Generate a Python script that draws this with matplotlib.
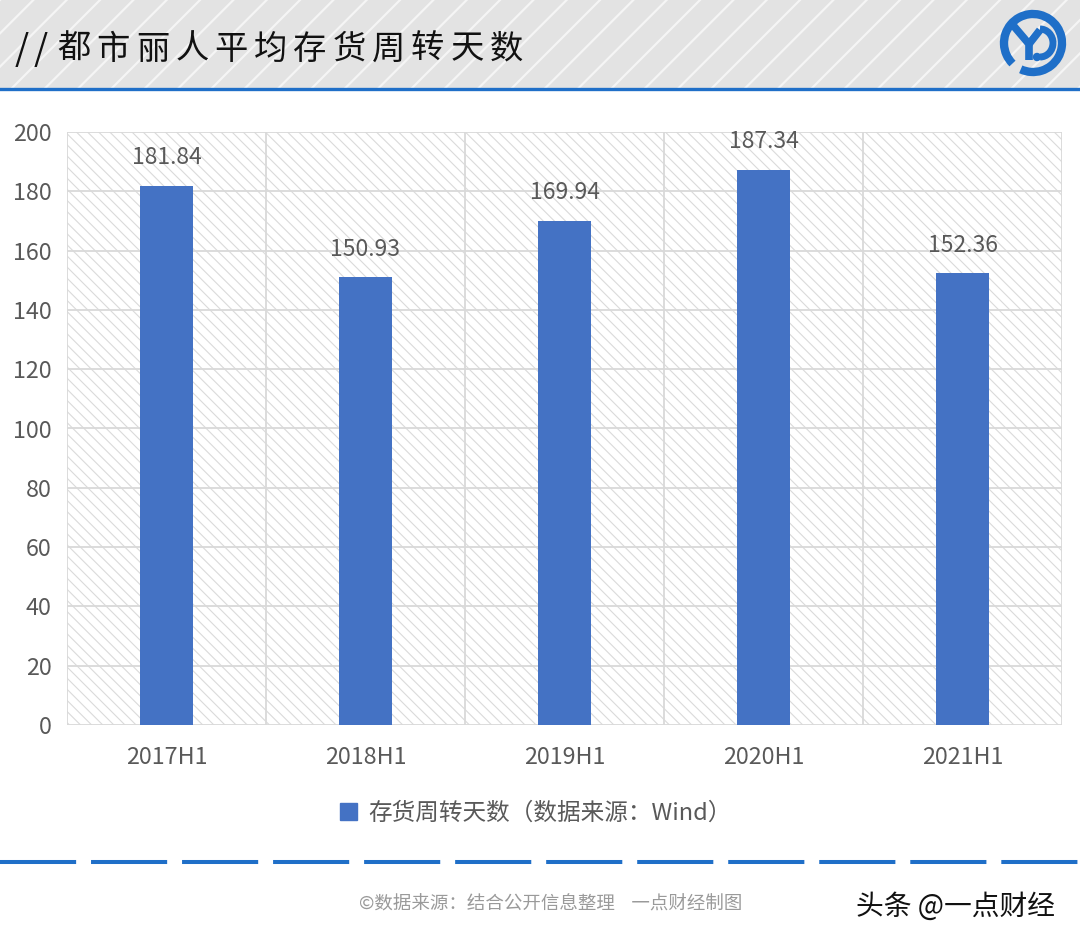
""" Bar chart: average inventory turnover days of Cosmo Lady (都市丽人) """

import matplotlib
matplotlib.use("Agg")
import matplotlib.pyplot as plt
from matplotlib.patches import Rectangle, Circle, Arc
from matplotlib.lines import Line2D

plt.rcParams["font.family"] = ["Noto Sans CJK SC", "DejaVu Sans"]

# Data
periods = ["2017H1", "2018H1", "2019H1", "2020H1", "2021H1"]
turnover_days = [181.84, 150.93, 169.94, 187.34, 152.36]
y_ticks = [0, 20, 40, 60, 80, 100, 120, 140, 160, 180, 200]

title = "都市丽人平均存货周转天数"
series_name = "存货周转天数（数据来源：Wind）"
footer_note = "©数据来源：结合公开信息整理    一点财经制图"
watermark = "头条 @一点财经"

BAR_COLOR = "#4472C4"
TEXT_GRAY = "#595959"
GRID_GRAY = "#d9d9d9"
BRAND_BLUE = "#1f6fc8"

W, H = 1080, 946
fig = plt.figure(figsize=(W / 100, H / 100), dpi=100)
fig.patch.set_facecolor("white")

# Background layer in pixel coordinates for header / footer decorations
bg = fig.add_axes([0, 0, 1, 1])
bg.set_xlim(0, W)
bg.set_ylim(H, 0)
bg.axis("off")
bg.set_zorder(0)

# Header: gray band with white diagonal stripes
plt.rcParams["hatch.linewidth"] = 1.6
bg.add_patch(Rectangle((0, 0), W, 88, facecolor="#e3e3e3", edgecolor="#f5f5f5",
                       hatch="/", linewidth=0))
bg.add_line(Line2D([0, W], [89.5, 89.5], color=BRAND_BLUE, linewidth=2.4))

# title drawn with wide letter spacing like the original
bg.text(15, 50, "/", fontsize=26, color="#111111", va="center", ha="left")
bg.text(34, 50, "/", fontsize=26, color="#111111", va="center", ha="left")
for i, ch in enumerate(title):
    bg.text(74 + i * 39.3, 49, ch, fontsize=24, color="#111111",
            va="center", ha="center", fontweight="medium")

# Logo (approximation)
cx, cy = 1033, 43
bg.add_patch(Arc((cx, cy), 58, 58, theta1=-225, theta2=115, color=BRAND_BLUE, linewidth=6))
bg.add_line(Line2D([1012, 1029, 1029], [24, 44, 60], color=BRAND_BLUE, linewidth=5.5,
                   solid_capstyle="butt", solid_joinstyle="miter"))
bg.add_line(Line2D([1029, 1040], [44, 30], color=BRAND_BLUE, linewidth=5.5,
                   solid_capstyle="butt"))
bg.add_patch(Arc((1040, 43), 26, 28, theta1=-90, theta2=90, color=BRAND_BLUE, linewidth=5))
bg.add_patch(Circle((1037, 57), 3.5, color=BRAND_BLUE))

# Footer: dashed blue line and credits
bg.add_line(Line2D([0, W], [862, 862], color=BRAND_BLUE, linewidth=2.9,
                   dashes=(18.9, 3.7), dash_capstyle="butt"))
bg.text(551, 905, footer_note, fontsize=13.3, color="#9a9a9a", ha="center", va="center")
bg.text(956, 907, watermark, fontsize=20, color="#111111", ha="center", va="center",
        fontweight="medium")

# Main chart
ax = fig.add_axes([67 / W, 1 - 725 / H, (1062 - 67) / W, (725 - 132) / H])
ax.set_zorder(1)
ax.patch.set_alpha(0)
plt.rcParams["hatch.linewidth"] = 0.8
ax.add_patch(Rectangle((0, 0), 1, 1, transform=ax.transAxes, facecolor="white",
                       edgecolor="#dadada", hatch="\\\\\\", linewidth=0, zorder=0))

x = range(len(periods))
bars = ax.bar(x, turnover_days, width=0.27, color=BAR_COLOR, zorder=3)

for rect, val in zip(bars, turnover_days):
    ax.annotate(f"{val:.2f}", (rect.get_x() + rect.get_width() / 2, val),
                xytext=(0, 12), textcoords="offset points", ha="center", va="bottom",
                fontsize=16.5, color=TEXT_GRAY)

ax.set_xlim(-0.5, len(periods) - 0.5)
ax.set_ylim(0, 200)
ax.set_yticks(y_ticks)
ax.set_xticks(list(x))
ax.set_xticklabels(periods)

# grid: horizontal every 20, vertical at category boundaries
for t in y_ticks:
    ax.axhline(t, color=GRID_GRAY, linewidth=1.3, zorder=1)
for b in [i - 0.5 for i in range(len(periods) + 1)]:
    ax.axvline(b, color=GRID_GRAY, linewidth=1.3, zorder=1)

for side in ["top", "right", "left", "bottom"]:
    ax.spines[side].set_visible(False)
ax.tick_params(axis="both", length=0, labelsize=16.8, colors=TEXT_GRAY)
ax.tick_params(axis="x", pad=15)
ax.tick_params(axis="y", pad=11)

ax.legend([Rectangle((0, 0), 1, 1, color=BAR_COLOR)], [series_name],
          loc="center", bbox_to_anchor=(536 / W, 1 - 813 / H),
          bbox_transform=fig.transFigure, frameon=False, fontsize=17,
          labelcolor=TEXT_GRAY, handlelength=0.7, handleheight=0.7, handletextpad=0.5)

plt.savefig("out.png", dpi=100)
